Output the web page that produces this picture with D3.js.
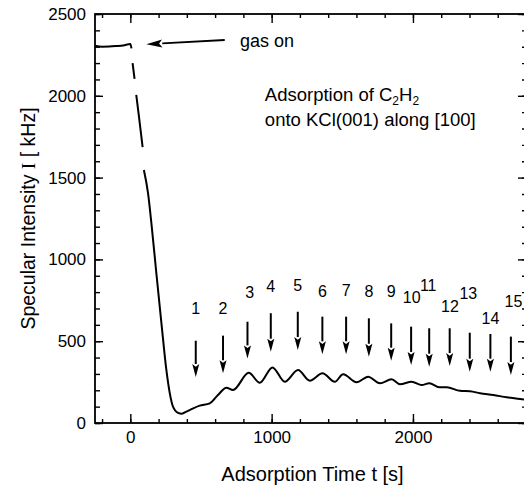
<!DOCTYPE html>
<html lang="en">
<head>
<meta charset="UTF-8">
<script src="https://cdnjs.cloudflare.com/ajax/libs/d3/7.8.5/d3.min.js"></script>
<style>
  html, body { margin: 0; padding: 0; background: #fff; }
  svg { font-family: "Liberation Sans", Arial, sans-serif; }
</style>
</head>
<body>
<div id="chart"></div>
<script>
// measured curve (null = gap in the recorded trace)
var timeS = [-250, -200, -150, -100, -50, 0, 8, 12,
  16, 30, 36,
  42, 60, 87, 92,
  96, 125, 149, 184, 220, 255, 279, 302, 338, 365, 397, 420, 491, 562, 620, 680, 727,
  838, 916, 1006, 1093, 1187, 1270, 1360, 1447, 1506, 1601, 1683, 1766, 1849, 1908,
  1991, 2062, 2115, 2191, 2239, 2333, 2404, 2475, 2569, 2664, 2758, 2800];
var intensity = [2306, 2300, 2301, 2304, 2308, 2317, 2290, null,
  2200, 2103, null,
  2005, 1880, 1687, null,
  1546, 1406, 1222, 917, 611, 324, 183, 100, 62, 57, 70, 79, 106, 120, 171, 216, 202,
  307, 246, 340, 252, 324, 259, 304, 252, 298, 249, 283, 243, 267, 237,
  252, 232, 243, 218, 218, 197, 194, 182, 171, 157, 147, 142];

// numbered arrows (oscillation maxima)
var arrowNum  = [1, 2, 3, 4, 5, 6, 7, 8, 9, 10, 11, 12, 13, 14, 15];
var arrowTime = [463, 656, 829, 994, 1185, 1359, 1527, 1688, 1846, 1987, 2115, 2260, 2402, 2548, 2693];
var arrowTop  = [503, 534, 619, 671, 680, 650, 650, 640, 609, 589, 579, 579, 552, 544, 528];
var arrowTip  = [281, 304, 395, 436, 446, 420, 420, 405, 381, 355, 344, 348, 314, 314, 293];
var labelTime = [463, 656, 845, 994, 1185, 1359, 1527, 1688, 1846, 1991, 2108, 2262, 2392, 2548, 2711];
var labelI    = [664, 664, 762, 803, 809, 772, 776, 768, 772, 732, 809, 680, 758, 603, 711];

var xMajor = [0, 1000, 2000];
var yMajor = [0, 500, 1000, 1500, 2000, 2500];

var W = 524, H = 489;
var margin = {top: 14, right: -2, bottom: 66, left: 95};

var svg = d3.select("#chart").append("svg")
  .attr("width", W).attr("height", H);

var x = d3.scaleLinear().domain([-250, 2800]).range([margin.left, W - margin.right]);
var y = d3.scaleLinear().domain([0, 2500]).range([H - margin.bottom, margin.top]);

var xMinor = d3.range(-200, 2801, 200);
var yMinor = d3.range(0, 2501, 100);

function styleAxis(g) {
  g.select(".domain").remove();
  g.selectAll("line").attr("stroke", "#000").attr("stroke-width", 1.4);
  g.selectAll("text").attr("fill", "#000").style("font-size", "17px");
}

// minor ticks
svg.append("g").attr("transform", "translate(0," + y(0) + ")")
  .call(d3.axisBottom(x).tickValues(xMinor).tickSize(-4).tickFormat("")).call(styleAxis);
svg.append("g").attr("transform", "translate(0," + y(2500) + ")")
  .call(d3.axisTop(x).tickValues(xMinor).tickSize(-4).tickFormat("")).call(styleAxis);
svg.append("g").attr("transform", "translate(" + x(-250) + ",0)")
  .call(d3.axisLeft(y).tickValues(yMinor).tickSize(-5).tickFormat("")).call(styleAxis);
svg.append("g").attr("transform", "translate(" + x(2800) + ",0)")
  .call(d3.axisRight(y).tickValues(yMinor).tickSize(-4).tickFormat("")).call(styleAxis);

// major ticks
svg.append("g").attr("transform", "translate(0," + y(0) + ")")
  .call(d3.axisBottom(x).tickValues(xMajor).tickSize(-9).tickPadding(8).tickFormat(d3.format("d"))).call(styleAxis);
svg.append("g").attr("transform", "translate(0," + y(2500) + ")")
  .call(d3.axisTop(x).tickValues(xMajor).tickSize(-9).tickFormat("")).call(styleAxis);
svg.append("g").attr("transform", "translate(" + x(-250) + ",0)")
  .call(d3.axisLeft(y).tickValues(yMajor).tickSize(-8).tickPadding(9).tickFormat(d3.format("d"))).call(styleAxis);
svg.append("g").attr("transform", "translate(" + x(2800) + ",0)")
  .call(d3.axisRight(y).tickValues(yMajor).tickSize(-8).tickFormat("")).call(styleAxis);

// frame
svg.append("rect")
  .attr("x", x(-250)).attr("y", y(2500))
  .attr("width", x(2800) - x(-250)).attr("height", y(0) - y(2500))
  .attr("fill", "none").attr("stroke", "#000").attr("stroke-width", 1.8);

// trace
var pts = timeS.map(function(t, i) { return {t: t, v: intensity[i]}; });
var line = d3.line()
  .defined(function(d) { return d.v != null; })
  .x(function(d) { return x(d.t); })
  .y(function(d) { return y(d.v); })
  .curve(d3.curveMonotoneX);

svg.append("path").datum(pts)
  .attr("d", line)
  .attr("fill", "none").attr("stroke", "#000").attr("stroke-width", 2);

// arrows
function arrow(g, x1, y1, x2, y2, w, len, sw) {
  var a = Math.atan2(y2 - y1, x2 - x1);
  var bx = x2 - len * Math.cos(a), by = y2 - len * Math.sin(a);
  g.append("line").attr("x1", x1).attr("y1", y1).attr("x2", bx).attr("y2", by)
    .attr("stroke", "#000").attr("stroke-width", sw);
  var px = -Math.sin(a) * w / 2, py = Math.cos(a) * w / 2;
  g.append("path")
    .attr("d", "M" + x2 + "," + y2 + "L" + (bx + px) + "," + (by + py) +
      "L" + (bx + (x2 - bx) * 0.2) + "," + (by + (y2 - by) * 0.2) +
      "L" + (bx - px) + "," + (by - py) + "Z")
    .attr("fill", "#000");
}

var ag = svg.append("g");
arrowNum.forEach(function(n, i) {
  arrow(ag, x(arrowTime[i]), y(arrowTop[i]), x(arrowTime[i]), y(arrowTip[i]), 7, 13, 2);
  ag.append("text")
    .attr("x", x(labelTime[i])).attr("y", y(labelI[i]))
    .attr("text-anchor", "middle")
    .style("font-size", "16px")
    .text(n);
});

// gas on
arrow(svg, x(668), y(2341), x(113), y(2315), 8, 16, 1.8);
svg.append("text").attr("x", x(776)).attr("y", y(2298))
  .style("font-size", "18px").text("gas on");

var t1 = svg.append("text").attr("x", x(952)).attr("y", y(1968)).style("font-size", "18.5px");
t1.append("tspan").text("Adsorption of C");
t1.append("tspan").attr("dy", 4).style("font-size", "12px").text("2");
t1.append("tspan").attr("dy", -4).text("H");
t1.append("tspan").attr("dy", 4).style("font-size", "12px").text("2");
svg.append("text").attr("x", x(952)).attr("y", y(1815)).style("font-size", "18.5px")
  .text("onto KCl(001) along [100]");

// axis titles
svg.append("text")
  .attr("x", (x(-250) + x(2800)) / 2 + 2).attr("y", 481)
  .attr("text-anchor", "middle").style("font-size", "20px")
  .text("Adsorption Time t [s]");

var yt = svg.append("text")
  .attr("transform", "translate(35," + ((y(0) + y(2500)) / 2) + ") rotate(-90)")
  .attr("text-anchor", "middle").style("font-size", "19.5px");
yt.append("tspan").text("Specular Intensity ");
yt.append("tspan").style("font-family", "'Liberation Serif', serif").text("I");
yt.append("tspan").text(" [ kHz]");
</script>
</body>
</html>
